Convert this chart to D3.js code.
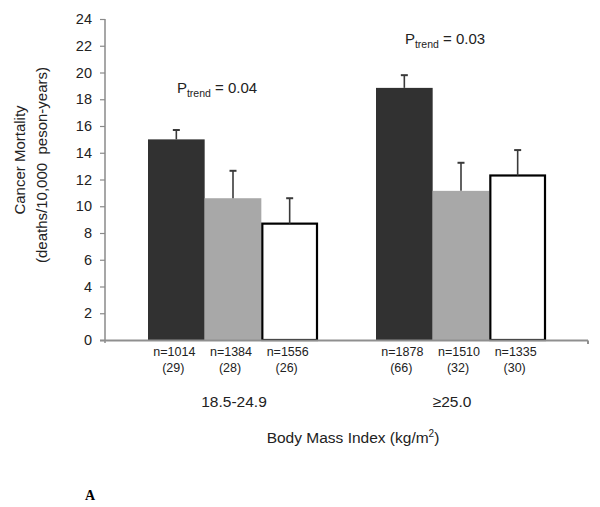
<!DOCTYPE html>
<html><head><meta charset="utf-8">
<script src="https://cdn.jsdelivr.net/npm/d3@7"></script>
<style>body{margin:0;background:#fff}svg{display:block}</style>
</head><body><svg id="c" width="600" height="507"></svg>
<script>
const groups = ["18.5-24.9", "≥25.0"];
const series = ["s1", "s2", "s3"];
const values = [[15.0, 10.6, 8.7], [18.85, 11.15, 12.3]];
const errTops = [[15.7, 12.65, 10.6], [19.8, 13.25, 14.2]];
const nLabels = [["n=1014", "n=1384", "n=1556"], ["n=1878", "n=1510", "n=1335"]];
const deathLabels = [["(29)", "(28)", "(26)"], ["(66)", "(32)", "(30)"]];
const pLabels = [{g: 0, text: "0.04", v: 18.45}, {g: 1, text: "0.03", v: 22.1}];
const yTicks = d3.range(0, 25, 2);

const svg = d3.select("#c");
const font = "Liberation Sans, Arial, sans-serif";
const y = d3.scaleLinear().domain([0, 24]).range([340, 19]);
const x0 = d3.scaleBand().domain(groups).range([119, 575]);
const x1 = d3.scaleBand().domain(series).range([29, 199]);
const fills = {s1: "#313131", s2: "#a8a8a8", s3: "#ffffff"};

// y axis
const yAx = svg.append("g").attr("transform", "translate(105,0)")
  .call(d3.axisLeft(y).tickValues(yTicks).tickSize(5).tickPadding(8));
yAx.select(".domain").attr("stroke", "#8a8a8a").attr("stroke-width", 1.5).attr("d", "M0,19V343");
yAx.selectAll(".tick line").attr("stroke", "#8a8a8a").attr("stroke-width", 1.2);
yAx.selectAll(".tick text").attr("font-family", font).attr("font-size", 14.5).attr("fill", "#222");

// bars
const g = svg.append("g");
groups.forEach((grp, gi) => {
  series.forEach((s, si) => {
    const bx = x0(grp) + x1(s);
    const w = x1.bandwidth();
    const v = values[gi][si];
    const isWhite = s === "s3";
    g.append("rect")
      .attr("x", isWhite ? bx + 1 : bx).attr("y", y(v))
      .attr("width", isWhite ? w - 2 : w).attr("height", y(0) - y(v))
      .attr("fill", fills[s])
      .attr("stroke", isWhite ? "#000" : "none").attr("stroke-width", isWhite ? 2.2 : 0);
    const cx = bx + w / 2;
    g.append("line").attr("x1", cx).attr("x2", cx).attr("y1", y(v)).attr("y2", y(errTops[gi][si]))
      .attr("stroke", "#3a3a3a").attr("stroke-width", 1.6);
    g.append("line").attr("x1", cx - 3.5).attr("x2", cx + 3.5).attr("y1", y(errTops[gi][si])).attr("y2", y(errTops[gi][si]))
      .attr("stroke", "#3a3a3a").attr("stroke-width", 2);
    g.append("text").attr("x", cx - 2).attr("y", 356).attr("text-anchor", "middle")
      .attr("font-family", font).attr("font-size", 12.5).attr("fill", "#222").text(nLabels[gi][si]);
    g.append("text").attr("x", cx - 3).attr("y", 372).attr("text-anchor", "middle")
      .attr("font-family", font).attr("font-size", 12.5).attr("fill", "#222").text(deathLabels[gi][si]);
  });
});

// x axis line
svg.append("path").attr("d", "M100,340.5H588M588,340.5V344").attr("stroke", "#8f8f8f").attr("stroke-width", 2).attr("fill", "none");

// group labels
const gOff = [1, -9];
groups.forEach((grp, gi) => {
  svg.append("text").attr("x", x0(grp) + x0.bandwidth() / 2 + gOff[gi]).attr("y", 407).attr("text-anchor", "middle")
    .attr("font-family", font).attr("font-size", 15.5).attr("fill", "#222").text(grp);
});

// P trend labels
pLabels.forEach(p => {
  const t = svg.append("text").attr("x", x0(groups[p.g]) + x0.bandwidth() / 2 - 16).attr("y", y(p.v))
    .attr("text-anchor", "middle").attr("font-family", font).attr("font-size", 15).attr("fill", "#222");
  t.append("tspan").text("P");
  t.append("tspan").attr("font-size", 10.5).attr("dy", 4).text("trend");
  t.append("tspan").attr("dy", -4).text(" = " + p.text);
});

// axis titles
const xt = svg.append("text").attr("x", 353).attr("y", 443).attr("text-anchor", "middle")
  .attr("font-family", font).attr("font-size", 15.5).attr("fill", "#222");
xt.append("tspan").text("Body Mass Index (kg/m");
xt.append("tspan").attr("font-size", 10).attr("dy", -6).text("2");
xt.append("tspan").attr("dy", 6).text(")");

svg.append("text").attr("transform", "translate(25,160) rotate(-90)").attr("text-anchor", "middle")
  .attr("font-family", font).attr("font-size", 15).attr("fill", "#222").text("Cancer Mortality");
svg.append("text").attr("transform", "translate(47,165) rotate(-90)").attr("text-anchor", "middle")
  .attr("font-family", font).attr("font-size", 15).attr("fill", "#222").attr("xml:space", "preserve")
  .style("white-space", "pre").text("(deaths/10,000  peson-years)");

svg.append("text").attr("x", 90).attr("y", 500).attr("text-anchor", "middle")
  .attr("font-family", "Liberation Serif, Times New Roman, serif").attr("font-weight", "bold").attr("font-size", 14).text("A");
</script></body></html>
